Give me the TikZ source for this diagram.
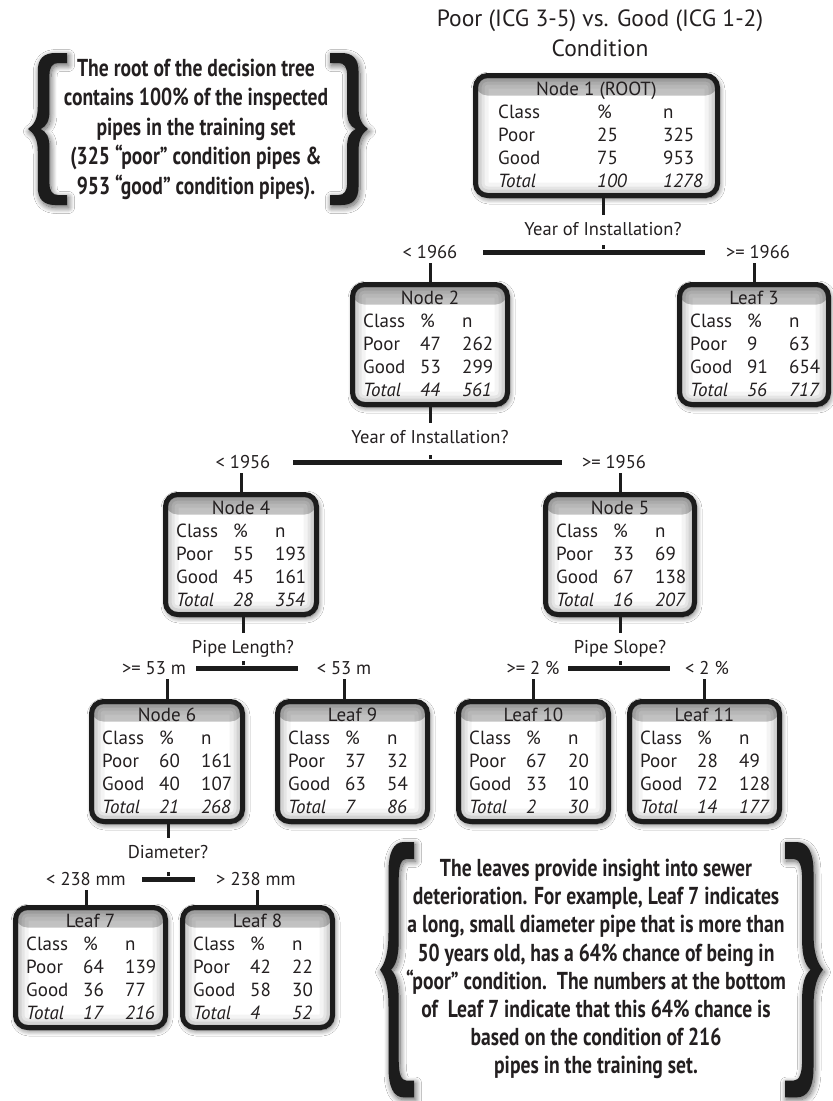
\documentclass[tikz,border=0pt]{standalone}
\usepackage{fontspec}
\setmainfont{PT Sans}
\newfontfamily\calloutfont[FakeStretch=0.8]{PT Sans}
\usetikzlibrary{shadows.blur}

\definecolor{frame}{HTML}{1C1C1C}
\definecolor{ink}{HTML}{231F20}
\definecolor{hdtop}{HTML}{BDBDBD}
\definecolor{hdbot}{HTML}{DCDCDC}

\tikzset{
  softshadow/.style={blur shadow={shadow xshift=1.5pt, shadow yshift=-2.5pt,
      shadow blur radius=6pt, shadow opacity=65, shadow blur steps=12}},
  statframe/.style={draw=frame, line width=5pt, rounded corners=12pt, fill=white,
    softshadow, inner sep=0pt,
    path picture={
      % grey title band with light swirls
      \fill[top color=hdtop, bottom color=hdbot]
        (path picture bounding box.north west) rectangle
        ([yshift=-20pt]path picture bounding box.north east);
      \begin{scope}[shift={(path picture bounding box.north west)}]
        \draw[white, opacity=.65, line width=1.3pt]
          (2,20) .. controls (6,11) and (12,5) .. (22,2)
          (12,20) .. controls (16,12) and (22,7) .. (33,4)
          (24,20) .. controls (26,14) and (31,9) .. (42,7);
      \end{scope}
      \begin{scope}[shift={(path picture bounding box.north east)}]
        \draw[white, opacity=.65, line width=1.3pt]
          (-2,20) .. controls (-6,11) and (-12,5) .. (-22,2)
          (-12,20) .. controls (-16,12) and (-22,7) .. (-33,4)
          (-24,20) .. controls (-26,14) and (-31,9) .. (-42,7);
      \end{scope}
      % soft inner shading along the frame
      \foreach \w/\o in {26/0.045,18/0.06,12/0.08,6/0.12}
        \draw[black, opacity=\o, line width=\w pt, rounded corners=12pt]
          (path picture bounding box.south west) rectangle
          (path picture bounding box.north east);
    }},
  cell/.style={anchor=base west, inner sep=0pt, text=ink,
    font=\fontsize{19}{22}\selectfont},
  cellit/.style={cell, font=\fontsize{19}{22}\selectfont\itshape},
  hdtext/.style={anchor=base, inner sep=0pt, text=ink,
    font=\fontsize{19}{22}\selectfont},
  lbl/.style={anchor=base, inner sep=0pt, text=ink,
    font=\fontsize{18.5}{22}\selectfont},
  headline/.style={anchor=base, inner sep=0pt, text=ink,
    font=\fontsize{23.5}{28}\selectfont},
  stem/.style={draw=frame, line width=3pt},
  tick/.style={draw=frame, line width=3pt},
  barnode/.style={rectangle, fill=frame, inner sep=0pt, minimum height=5pt},
  callout/.style={align=center, inner sep=0pt, text=ink,
    font=\calloutfont\bfseries\fontsize{24.5}{28.2}\selectfont},
  curlybrace/.pic={
    \fill[frame, softshadow]
      (40,0) -- (40,10) -- (31,10) .. controls (25,10) and (22,14) .. (22,22)
      -- (22,58) .. controls (22,68) and (19,73) .. (13,76)
      .. controls (19,79) and (22,84) .. (22,94)
      -- (22,130) .. controls (22,138) and (25,142) .. (31,142)
      -- (40,142) -- (40,152) -- (28,152) .. controls (16,152) and (10,146) .. (10,134)
      -- (10,98) .. controls (10,86) and (6,80) .. (0,76)
      .. controls (6,72) and (10,66) .. (10,54)
      -- (10,18) .. controls (10,6) and (16,0) .. (28,0) -- cycle;
  },
}

% column offsets of the Class, % and n columns, from the box's left edge
\def\ccol{13}
\def\pcol{70}
\def\ncol{112}

% a statistics box: name, left, top, right, title, data p%/pn/g%/gn/t%/tn
\newcommand\statbox[6]{%
  \pgfmathsetmacro\bxc{(#2+#4)/2}%
  \pgfmathsetmacro\bw{#4-#2-5}%
  \node[statframe, minimum width=\bw pt, minimum height=120pt] (#1) at (\bxc,#3+62.5) {};
  \node[hdtext] (#1-h) at (\bxc,#3+22) {#5};
  \def\curname{#1}\def\curleft{#2}\def\curtop{#3}%
  \statdata#6\relax}
\def\statdata#1/#2/#3/#4/#5/#6\relax{%
  \node[cell] (\curname-k)  at (\curleft+\ccol,\curtop+45) {Class};
  \node[cell] (\curname-kp) at (\curleft+\pcol,\curtop+45) {\%};
  \node[cell] (\curname-kn) at (\curleft+\ncol,\curtop+45) {n};
  \node[cell] (\curname-p)  at (\curleft+\ccol,\curtop+68) {Poor};
  \node[cell] (\curname-pp) at (\curleft+\pcol,\curtop+68) {#1};
  \node[cell] (\curname-pn) at (\curleft+\ncol,\curtop+68) {#2};
  \node[cell] (\curname-g)  at (\curleft+\ccol,\curtop+91) {Good};
  \node[cell] (\curname-gp) at (\curleft+\pcol,\curtop+91) {#3};
  \node[cell] (\curname-gn) at (\curleft+\ncol,\curtop+91) {#4};
  \node[cellit] (\curname-t)  at (\curleft+\ccol,\curtop+114) {Total};
  \node[cellit] (\curname-tp) at (\curleft+\pcol,\curtop+114) {#5};
  \node[cellit] (\curname-tn) at (\curleft+\ncol,\curtop+114) {#6};
}

\begin{document}
\begin{tikzpicture}[x=1pt,y=-1pt]
\useasboundingbox[fill=white] (0,0) rectangle (833,1101);

% heading
\node[headline] (head1) at (600,26) {Poor (ICG 3-5) vs. Good (ICG 1-2)};
\node[headline] (head2) at (600,56) {Condition};

% boxes
\def\ccol{25}\def\pcol{124}\def\ncol{190}
\statbox{n1}{473}{73}{720}{Node 1 (ROOT)}{25/325/75/953/100/1278}
\def\ccol{13}\def\pcol{70}\def\ncol{112}
\statbox{n2}{350}{282}{510}{Node 2}{47/262/53/299/44/561}
\statbox{l3}{677}{282}{831}{Leaf 3}{9/63/91/654/56/717}
\statbox{n4}{163}{492}{319}{Node 4}{55/193/45/161/28/354}
\statbox{n5}{543}{492}{697}{Node 5}{33/69/67/138/16/207}
\statbox{n6}{89}{699}{245}{Node 6}{60/161/40/107/21/268}
\statbox{l9}{275}{699}{430}{Leaf 9}{37/32/63/54/7/86}
\statbox{l10}{456}{699}{611}{Leaf 10}{67/20/33/10/2/30}
\statbox{l11}{627}{699}{782}{Leaf 11}{28/49/72/128/14/177}
\statbox{l7}{13}{905}{168}{Leaf 7}{64/139/36/77/17/216}
\statbox{l8}{180}{905}{335}{Leaf 8}{42/22/58/30/4/52}

% split 1: year of installation
\node[lbl] (q1) at (603,235) {Year of Installation?};
\node[barnode, minimum width=222pt] (b1) at (594,252) {};
\node[lbl] (a1) at (430,258) {< 1966};
\node[lbl] (c1) at (758,258) {>= 1966};
\draw[stem, shorten >=7pt] (n1.south -| q1.north) -- (q1.north);
\draw[tick] (b1.north -| q1) -- ++(0,-4);
\draw[stem, shorten <=5pt] (a1.south -| n2.north) -- (n2.north);
\draw[stem, shorten <=5pt] (c1.south -| l3.north) -- (l3.north);

% split 2: year of installation
\node[lbl] (q2) at (430,443) {Year of Installation?};
\node[barnode, minimum width=269pt] (b2) at (427.5,462) {};
\node[lbl] (a2) at (243,468) {< 1956};
\node[lbl] (c2) at (614,468) {>= 1956};
\draw[stem, shorten >=7pt] (n2.south -| q2.north) -- (q2.north);
\draw[tick] (b2.north -| q2) -- ++(0,-4);
\draw[stem, shorten <=5pt] (a2.south -| n4.north) -- (n4.north);
\draw[stem, shorten <=5pt] (c2.south -| n5.north) -- (n5.north);

% split 3: pipe length
\node[lbl] (q3) at (243,653) {Pipe Length?};
\node[barnode, minimum width=102pt] (b3) at (247,668) {};
\node[lbl] (a3) at (154,674) {>= 53 m};
\node[lbl] (c3) at (344,674) {< 53 m};
\draw[stem, shorten >=7pt] (n4.south -| q3.north) -- (q3.north);
\draw[tick] (b3.north -| q3) -- ++(0,-4);
\draw[stem, shorten <=5pt] (a3.south -| n6.north) -- (n6.north);
\draw[stem, shorten <=5pt] (c3.south) -- (c3.south |- l9.north);

% split 4: pipe slope
\node[lbl] (q4) at (620,653) {Pipe Slope?};
\node[barnode, minimum width=102pt] (b4) at (619,668) {};
\node[lbl] (a4) at (533,674) {>= 2 \%};
\node[lbl] (c4) at (707,674) {< 2 \%};
\draw[stem, shorten >=7pt] (n5.south -| q4.north) -- (q4.north);
\draw[tick] (b4.north -| q4) -- ++(0,-4);
\draw[stem, shorten <=5pt] (a4.south -| l10.north) -- (l10.north);
\draw[stem, shorten <=5pt] (c4.south -| l11.north) -- (l11.north);

% split 5: diameter
\node[lbl] (q5) at (168,858) {Diameter?};
\node[barnode, minimum width=53pt] (b5) at (168.5,879) {};
\node[lbl] (a5) at (86,885) {< 238 mm};
\node[lbl] (c5) at (256,885) {> 238 mm};
\draw[stem, shorten >=7pt] (n6.south -| q5.north) -- (q5.north);
\draw[tick] (b5.north -| q5) -- ++(0,-4);
\draw[stem, shorten <=5pt] (a5.south) -- (a5.south |- l7.north);
\draw[stem, shorten <=5pt] (c5.south -| l8.north) -- (l8.north);

% note on the root
\pic[xscale=0.975] at (28,53) {curlybrace};
\pic[xscale=-0.95] at (368,53) {curlybrace};
\node[callout, font=\calloutfont\bfseries\fontsize{24.5}{29.5}\selectfont]
  (rootnote) at (196,129) {The root of the decision tree\\
  contains 100\% of the inspected\\ pipes in the training set\\
  (325 “poor” condition pipes \&\\ 953 “good” condition pipes).};

% note on the leaves
\pic[xscale=0.85, yscale=1.68] at (380,842) {curlybrace};
\pic[xscale=-0.95, yscale=1.68] at (823,842) {curlybrace};
\node[callout] (leafnote) at (596,969) {The leaves provide insight into sewer\\
  deterioration. For example, Leaf 7 indicates\\
  a long, small diameter pipe that is more than\\
  50 years old, has a 64\% chance of being in\\
  “poor” condition.\ \ The numbers at the bottom\\
  of\ \ Leaf 7 indicate that this 64\% chance is\\
  based on the condition of 216\\ pipes in the training set.};
\end{tikzpicture}
\end{document}
